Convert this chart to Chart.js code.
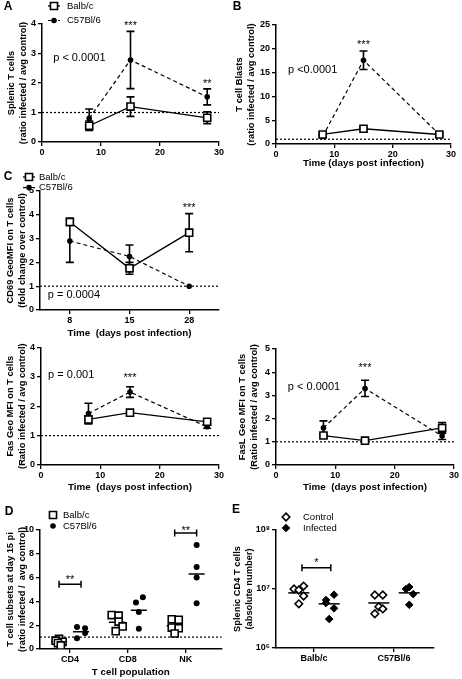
<!DOCTYPE html>
<html lang="en">
<head>
<meta charset="UTF-8">
<script src="https://cdn.jsdelivr.net/npm/chart.js"></script>
<title>T cell responses, Balb/c vs C57Bl/6</title>
<style>
  body { margin: 0; background: #fff; }
  #wrap { position: relative; width: 462px; height: 679px; }
  canvas { position: absolute; }
</style>
</head>
<body>
<div id="wrap">
  <canvas id="chartA" width="231" height="170" style="left:0;top:0"></canvas>
  <canvas id="chartB" width="231" height="172" style="left:231px;top:0"></canvas>
  <canvas id="chartC" width="231" height="170" style="left:0;top:170px"></canvas>
  <canvas id="chartFas" width="231" height="160" style="left:0;top:340px"></canvas>
  <canvas id="chartFasL" width="231" height="160" style="left:231px;top:340px"></canvas>
  <canvas id="chartD" width="231" height="179" style="left:0;top:500px"></canvas>
  <canvas id="chartE" width="231" height="179" style="left:231px;top:500px"></canvas>
</div>
<script>
// ---- data ----
const days = [8, 15, 28];
const dayLabels = ['8', '15', '28'];

// A: splenic T cells
const aBalb = [0.55, 1.2, 0.82];
const aBalbErr = [0.16, 0.33, 0.2];
const aC57 = [0.8, 2.78, 1.53];
const aC57Err = [0.32, 0.97, 0.27];

// B: T cell blasts
const bBalb = [2.0, 3.2, 2.0];
const bBalbErr = [0.3, 0.3, 0.3];
const bC57 = [1.6, 17.6, 2.0];
const bC57Err = [0.3, 1.95, 0.3];

// C: CD69 GeoMFI
const cBalb = [3.7, 1.75, 3.25];
const cBalbErr = [0.15, 0.25, 0.8];
const cC57 = [2.9, 2.25, 1.0];
const cC57Err = [0.9, 0.48, 0];

// Fas
const fasBalb = [1.55, 1.78, 1.47];
const fasBalbErr = [0.1, 0.07, 0.07];
const fasC57 = [1.75, 2.48, 1.3];
const fasC57Err = [0.35, 0.18, 0.05];

// FasL
const faslBalb = [1.27, 1.05, 1.6];
const faslBalbErr = [0.08, 0.04, 0.23];
const faslC57 = [1.6, 3.3, 1.25];
const faslC57Err = [0.3, 0.35, 0.15];

// D: subsets at day 15
const subsets = ['CD4', 'CD8', 'NK'];
const dBalb = [[0.85, 0.7, 0.6, 0.5, 0.3], [2.85, 2.8, 2.3, 1.9, 1.5], [2.5, 2.45, 1.8, 1.75, 1.3]];
const dC57 = [[1.85, 1.75, 1.35, 0.9], [4.35, 3.9, 3.1, 1.7], [8.75, 6.9, 6.0, 3.85]];
const dBalbMean = [0.6, 2.25, 1.95];
const dC57Mean = [1.45, 3.25, 6.3];
const dBalbJit = [[0, -0.06, 0.06, -0.02, 0.03], [-0.09, 0.03, 0.03, 0.1, -0.02], [-0.05, 0.07, -0.05, 0.07, 0]];
const dC57Jit = [[-0.07, 0.07, 0.07, -0.07], [0.07, -0.05, 0, 0], [0, 0, 0, 0]];

// E: absolute CD4 numbers
const strains = ['Balb/c', 'C57Bl/6'];
const eControl = [[1.0e7, 9.6e6, 1.12e7, 7.6e6, 5.6e6], [7.9e6, 7.9e6, 5.0e6, 4.6e6, 3.8e6]];
const eInfected = [[8.0e6, 6.5e6, 5.8e6, 4.7e6, 3.1e6], [1.08e7, 1.0e7, 8.2e6, 5.4e6]];
const eControlMean = [8.6e6, 5.8e6];
const eInfectedMean = [5.6e6, 8.6e6];
const eControlJit = [[-0.06, 0, 0.06, 0.06, 0], [-0.05, 0.05, 0, 0.05, -0.05]];
const eInfectedJit = [[0.06, -0.04, -0.04, 0.06, 0], [0, -0.04, 0.05, 0]];

// ---- styling ----
const FONT = '"Liberation Sans", Arial, Helvetica, sans-serif';
const tickFont = { family: FONT, size: 9, weight: 'bold' };
const yTitleFont = { family: FONT, size: 9.3, weight: 'bold', lineHeight: 1.35 };
const xTitleFont = { family: FONT, size: 9.8, weight: 'bold', lineHeight: 1.2 };

function balbSet(vals, errs, xs) {
  return {
    label: 'Balb/c',
    data: xs ? xs.map((d, i) => ({ x: d, y: vals[i] })) : vals,
    errorBars: errs,
    showLine: true,
    borderColor: '#000', borderWidth: 1.3,
    pointStyle: 'rect', pointRadius: 5,
    pointBackgroundColor: '#fff', pointBorderColor: '#000', pointBorderWidth: 1.6
  };
}

function c57Set(vals, errs, xs) {
  return {
    label: 'C57Bl/6',
    data: xs ? xs.map((d, i) => ({ x: d, y: vals[i] })) : vals,
    errorBars: errs,
    showLine: true,
    borderColor: '#000', borderWidth: 1.2, borderDash: [4, 3],
    pointStyle: 'circle', pointRadius: 2.8,
    pointBackgroundColor: '#000', pointBorderColor: '#000', pointBorderWidth: 0
  };
}

function jittered(groups, off, jit) {
  const out = [];
  groups.forEach((g, gi) => g.forEach((v, k) => out.push({ x: gi + off + jit[gi][k], y: v })));
  return out;
}

function meanSet(vals, off, r) {
  return {
    label: 'mean',
    data: vals.map((v, i) => ({ x: i + off, y: v })),
    pointStyle: 'line', pointRadius: r,
    pointBorderColor: '#000', pointBorderWidth: 1.5
  };
}

function drawMarker(ctx, kind, x, y) {
  const h = Chart.helpers;
  ctx.strokeStyle = '#000';
  if (kind === 'balb' || kind === 'balbPt') {
    ctx.fillStyle = '#fff'; ctx.lineWidth = 1.6;
    h.drawPoint(ctx, { pointStyle: 'rect', radius: 5, rotation: 0, borderWidth: 1.6 }, x, y);
  } else if (kind === 'c57' || kind === 'c57Pt') {
    ctx.fillStyle = '#000';
    h.drawPoint(ctx, { pointStyle: 'circle', radius: 2.8, rotation: 0, borderWidth: 0 }, x, y);
  } else if (kind === 'ctrl') {
    ctx.fillStyle = '#fff'; ctx.lineWidth = 1.6;
    h.drawPoint(ctx, { pointStyle: 'rectRot', radius: 3.8, rotation: 0, borderWidth: 1.6 }, x, y);
  } else if (kind === 'inf') {
    ctx.fillStyle = '#000'; ctx.lineWidth = 1;
    h.drawPoint(ctx, { pointStyle: 'rectRot', radius: 3.8, rotation: 0, borderWidth: 1 }, x, y);
  }
}

function panelPlugin(p) {
  return {
    id: 'panel',
    beforeDatasetsDraw(chart) {
      const ctx = chart.ctx, area = chart.chartArea, ys = chart.scales.y;
      ctx.save();
      ctx.strokeStyle = '#000';
      if (p.refLine != null) {
        const py = ys.getPixelForValue(p.refLine);
        ctx.lineWidth = 1.2;
        ctx.setLineDash([2, 2]);
        ctx.beginPath();
        ctx.moveTo(area.left, py);
        ctx.lineTo(area.right, py);
        ctx.stroke();
        ctx.setLineDash([]);
      }
      chart.data.datasets.forEach((ds, i) => {
        if (!ds.errorBars) return;
        chart.getDatasetMeta(i).data.forEach((pt, j) => {
          const e = ds.errorBars[j];
          if (!e) return;
          const v = typeof ds.data[j] === 'object' ? ds.data[j].y : ds.data[j];
          const top = ys.getPixelForValue(v + e), bot = ys.getPixelForValue(v - e);
          ctx.lineWidth = 1.6;
          ctx.beginPath();
          ctx.moveTo(pt.x, top); ctx.lineTo(pt.x, bot);
          ctx.moveTo(pt.x - 4, top); ctx.lineTo(pt.x + 4, top);
          ctx.moveTo(pt.x - 4, bot); ctx.lineTo(pt.x + 4, bot);
          ctx.stroke();
        });
      });
      ctx.restore();
    },
    afterDraw(chart) {
      const ctx = chart.ctx, xs = chart.scales.x, ys = chart.scales.y;
      ctx.save();
      ctx.fillStyle = '#000';
      ctx.strokeStyle = '#000';
      (p.brackets || []).forEach(b => {
        const x1 = xs.getPixelForValue(b.x1), x2 = xs.getPixelForValue(b.x2), py = ys.getPixelForValue(b.y);
        ctx.lineWidth = 1.5;
        ctx.beginPath();
        ctx.moveTo(x1, py); ctx.lineTo(x2, py);
        ctx.moveTo(x1, py - 3.5); ctx.lineTo(x1, py + 3.5);
        ctx.moveTo(x2, py - 3.5); ctx.lineTo(x2, py + 3.5);
        ctx.stroke();
      });
      (p.notes || []).forEach(n => {
        ctx.font = (n.size || 11) + 'px ' + FONT;
        ctx.textAlign = n.align || 'center';
        ctx.textBaseline = 'middle';
        ctx.fillText(n.text, xs.getPixelForValue(n.x), ys.getPixelForValue(n.y));
      });
      if (p.letter) {
        ctx.font = 'bold 12px ' + FONT;
        ctx.textAlign = 'center';
        ctx.textBaseline = 'middle';
        ctx.fillText(p.letter, p.letterAt[0], p.letterAt[1]);
      }
      if (p.legend) {
        const lg = p.legend;
        lg.items.forEach((it, i) => {
          const y = lg.y + i * lg.dy;
          if (it.kind === 'balb' || it.kind === 'c57') {
            ctx.lineWidth = it.kind === 'balb' ? 1.3 : 1.2;
            ctx.setLineDash(it.kind === 'balb' ? [] : [3, 2]);
            ctx.beginPath();
            ctx.moveTo(lg.sx - 6, y); ctx.lineTo(lg.sx + 6, y);
            ctx.stroke();
            ctx.setLineDash([]);
          }
          drawMarker(ctx, it.kind, lg.sx, y);
          ctx.fillStyle = '#000';
          ctx.font = '9.5px ' + FONT;
          ctx.textAlign = 'left';
          ctx.textBaseline = 'middle';
          ctx.fillText(it.label, lg.tx, y);
        });
      }
      ctx.restore();
    }
  };
}

function makeChart(p) {
  const xScale = {
    type: p.xType || 'linear',
    offset: p.xType === 'category',
    min: p.xMin, max: p.xMax,
    ticks: { stepSize: p.xStep, font: tickFont, color: '#000', padding: 1, maxRotation: 0, autoSkip: false },
    grid: { offset: false, drawOnChartArea: false, color: '#000', lineWidth: 1.3, tickLength: 4 },
    border: { color: '#000', width: 1.5 },
    title: { display: !!p.xTitle, text: p.xTitle || '', font: xTitleFont, color: '#000',
             padding: { top: 0, bottom: p.xTitlePad || 0 } },
    afterFit: s => { s.height = p.xH; }
  };
  if (p.xTicks) {
    xScale.afterBuildTicks = s => { s.ticks = p.xTicks.map(v => ({ value: v })); };
    xScale.ticks.callback = v => p.xTickLabels[p.xTicks.indexOf(v)];
  }
  const yScale = {
    type: p.yType || 'linear',
    min: p.yMin, max: p.yMax,
    ticks: { stepSize: p.yStep, font: tickFont, color: '#000', padding: 2 },
    grid: { drawOnChartArea: false, color: '#000', lineWidth: 1.3, tickLength: 4 },
    border: { color: '#000', width: 1.5 },
    title: { display: true, text: p.yTitle, font: yTitleFont, color: '#000',
             padding: { top: p.yTitlePad, bottom: 0 } },
    afterFit: s => { s.width = p.L; }
  };
  if (p.yTicks) {
    yScale.afterBuildTicks = s => { s.ticks = p.yTicks.map(v => ({ value: v })); };
    yScale.ticks.callback = v => p.yTickLabels[p.yTicks.indexOf(v)];
  }
  return new Chart(document.getElementById(p.id), {
    type: p.type || 'scatter',
    data: { labels: p.labels, datasets: p.datasets },
    options: {
      responsive: false,
      animation: false,
      events: [],
      layout: { padding: { left: 0, top: p.T, right: p.R, bottom: 0 } },
      plugins: { legend: { display: false }, tooltip: { enabled: false } },
      scales: { x: xScale, y: yScale }
    },
    plugins: [panelPlugin(p)]
  });
}

// ---- panels ----
makeChart({
  id: 'chartA', L: 42, T: 24, R: 12, xH: 28,
  datasets: [balbSet(aBalb, aBalbErr, days), c57Set(aC57, aC57Err, days)],
  xMin: 0, xMax: 30, xStep: 10,
  yMin: 0, yMax: 4, yStep: 1, yTitlePad: 5,
  yTitle: ['Splenic T cells', '(ratio infected / avg control)'],
  refLine: 1,
  notes: [
    { x: 1.9, y: 2.85, text: 'p < 0.0001', align: 'left' },
    { x: 15, y: 3.95, text: '***' },
    { x: 28, y: 1.98, text: '**' }
  ],
  letter: 'A', letterAt: [8, 7],
  legend: { sx: 54, tx: 67, y: 6, dy: 14.5, items: [{ kind: 'balb', label: 'Balb/c' }, { kind: 'c57', label: 'C57Bl/6' }] }
});

makeChart({
  id: 'chartB', L: 45, T: 25, R: 11, xH: 28,
  datasets: [balbSet(bBalb, bBalbErr, days), c57Set(bC57, bC57Err, days)],
  xMin: 0, xMax: 30, xStep: 10, xTitle: 'Time (days post infection)', xTitlePad: 3,
  yMin: 0, yMax: 25, yStep: 5, yTitlePad: 2,
  yTitle: ['T cell Blasts', '(ratio infected / avg control)'],
  refLine: 1,
  notes: [
    { x: 2.06, y: 15.5, text: 'p <0.0001', align: 'left' },
    { x: 15, y: 20.7, text: '***' }
  ],
  letter: 'B', letterAt: [6, 7]
});

makeChart({
  id: 'chartC', type: 'line', xType: 'category', labels: dayLabels, L: 40, T: 21, R: 12, xH: 30,
  datasets: [balbSet(cBalb, cBalbErr), c57Set(cC57, cC57Err)],
  xTitle: 'Time  (days post infection)', xTitlePad: 1,
  yMin: 0, yMax: 5, yStep: 1, yTitlePad: 4,
  yTitle: ['CD69 GeoMFI on T cells', '(fold change over control)'],
  refLine: 1,
  notes: [
    { x: -0.37, y: 0.63, text: 'p = 0.0004', align: 'left' },
    { x: 2, y: 4.3, text: '***' }
  ],
  letter: 'C', letterAt: [8, 7],
  legend: { sx: 29, tx: 39, y: 7, dy: 10.6, items: [{ kind: 'balb', label: 'Balb/c' }, { kind: 'c57', label: 'C57Bl/6' }] }
});

makeChart({
  id: 'chartFas', L: 41, T: 7, R: 12, xH: 35,
  datasets: [balbSet(fasBalb, fasBalbErr, days), c57Set(fasC57, fasC57Err, days)],
  xMin: 0, xMax: 30, xStep: 10, xTitle: 'Time  (days post infection)', xTitlePad: 7,
  yMin: 0, yMax: 4, yStep: 1, yTitlePad: 4,
  yTitle: ['Fas Geo MFI on T cells', '(Ratio infected / avg control)'],
  refLine: 1,
  notes: [
    { x: 1.2, y: 3.05, text: 'p = 0.001', align: 'left' },
    { x: 15, y: 2.97, text: '***' }
  ]
});

makeChart({
  id: 'chartFasL', L: 45, T: 9, R: 8, xH: 35,
  datasets: [balbSet(faslBalb, faslBalbErr, days), c57Set(faslC57, faslC57Err, days)],
  xMin: 0, xMax: 30, xStep: 10, xTitle: 'Time  (days post infection)', xTitlePad: 7,
  yMin: 0, yMax: 5, yStep: 1, yTitlePad: 5,
  yTitle: ['FasL Geo MFI on T cells', '(Ratio infected / avg control)'],
  refLine: 1,
  notes: [
    { x: 2.0, y: 3.36, text: 'p < 0.0001', align: 'left' },
    { x: 15, y: 4.2, text: '***' }
  ]
});

makeChart({
  id: 'chartD', L: 40, T: 30, R: 5, xH: 30,
  datasets: [
    { label: 'Balb/c', data: jittered(dBalb, -0.19, dBalbJit), pointStyle: 'rect', pointRadius: 5,
      pointBackgroundColor: '#fff', pointBorderColor: '#000', pointBorderWidth: 1.6 },
    { label: 'C57Bl/6', data: jittered(dC57, 0.19, dC57Jit), pointStyle: 'circle', pointRadius: 3,
      pointBackgroundColor: '#000', pointBorderColor: '#000', pointBorderWidth: 0 },
    meanSet(dBalbMean, -0.19, 8),
    meanSet(dC57Mean, 0.19, 8)
  ],
  xMin: -0.52, xMax: 2.62, xTicks: [0, 1, 2], xTickLabels: subsets,
  xTitle: 'T cell population', xTitlePad: 1,
  yMin: 0, yMax: 10, yStep: 2, yTitlePad: 4,
  yTitle: ['T cell subsets at day 15 pi', '(ratio infected /  avg control)'],
  refLine: 1,
  brackets: [{ x1: -0.19, x2: 0.19, y: 5.45 }, { x1: 1.81, x2: 2.19, y: 9.75 }],
  notes: [{ x: 0, y: 5.84, text: '**' }, { x: 2, y: 9.96, text: '**' }],
  letter: 'D', letterAt: [9, 12],
  legend: { sx: 53, tx: 63, y: 15, dy: 11, items: [{ kind: 'balbPt', label: 'Balb/c' }, { kind: 'c57Pt', label: 'C57Bl/6' }] }
});

makeChart({
  id: 'chartE', L: 45, T: 30, R: 28, xH: 31,
  datasets: [
    { label: 'Control', data: jittered(eControl, -0.19, eControlJit), pointStyle: 'rectRot', pointRadius: 3.8,
      pointBackgroundColor: '#fff', pointBorderColor: '#000', pointBorderWidth: 1.6 },
    { label: 'Infected', data: jittered(eInfected, 0.19, eInfectedJit), pointStyle: 'rectRot', pointRadius: 3.8,
      pointBackgroundColor: '#000', pointBorderColor: '#000', pointBorderWidth: 1 },
    meanSet(eControlMean, -0.19, 10.5),
    meanSet(eInfectedMean, 0.19, 10.5)
  ],
  xMin: -0.475, xMax: 1.5, xTicks: [0, 1], xTickLabels: strains,
  yType: 'logarithmic', yMin: 1e6, yMax: 1e8, yTitlePad: 0,
  yTicks: [1e6, 1e7, 1e8], yTickLabels: ['10\u2076', '10\u2077', '10\u2078'],
  yTitle: ['Splenic CD4 T cells', '(absolute number)'],
  brackets: [{ x1: -0.15, x2: 0.21, y: 2.3e7 }],
  notes: [{ x: 0.03, y: 2.75e7, text: '*' }],
  letter: 'E', letterAt: [5, 10],
  legend: { sx: 55, tx: 72, y: 17, dy: 11, items: [{ kind: 'ctrl', label: 'Control' }, { kind: 'inf', label: 'Infected' }] }
});
</script>
</body>
</html>
